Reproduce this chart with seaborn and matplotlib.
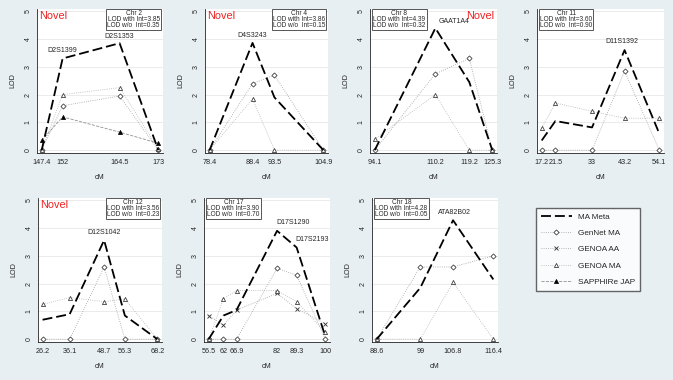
import matplotlib
matplotlib.use('Agg')
import matplotlib.pyplot as plt
from matplotlib.lines import Line2D
import seaborn as sns

sns.set_style('white')
plt.rcParams['font.family'] = ['Liberation Sans', 'DejaVu Sans']

# ---- data (cM positions and LOD values) ----
chr2_cm = [147.4, 152, 164.5, 173]
chr2_meta = [0, 3.3, 3.85, 0]
chr2_gennet = [0, 1.6, 1.95, 0]
chr2_genoa_ma = [0, 2.0, 2.25, 0.05]
chr2_sapphire = [0.35, 1.2, 0.65, 0.25]

chr4_cm = [78.4, 88.4, 93.5, 104.9]
chr4_meta = [0, 3.86, 1.9, 0]
chr4_gennet = [0, 2.4, 2.7, 0]
chr4_genoa_ma = [0, 1.85, 0, 0]

chr8_cm = [94.1, 110.2, 119.2, 125.3]
chr8_meta = [0, 4.39, 2.45, 0]
chr8_gennet = [0, 2.75, 3.3, 0]
chr8_genoa_ma = [0.4, 2.0, 0, 0]

chr11_cm = [17.2, 21.5, 33, 43.2, 54.1]
chr11_meta = [0.35, 1.05, 0.82, 3.6, 0.6]
chr11_gennet = [0, 0, 0, 2.85, 0]
chr11_genoa_ma = [0.8, 1.7, 1.4, 1.15, 1.15]

chr12_cm = [26.2, 36.1, 48.7, 56.3, 68.2]
chr12_meta = [0.7, 0.9, 3.56, 0.85, 0]
chr12_gennet = [0, 0, 2.6, 0, 0]
chr12_genoa_ma = [1.25, 1.5, 1.35, 1.45, 0]

chr17_cm = [56.5, 62, 66.9, 82, 89.3, 100]
chr17_meta = [0, 0.85, 1.05, 3.9, 3.3, 0.1]
chr17_gennet = [0, 0, 0, 2.55, 2.3, 0]
chr17_genoa_aa = [0.85, 0.5, 1.05, 1.65, 1.1, 0.55]
chr17_genoa_ma = [0, 1.45, 1.75, 1.75, 1.35, 0.25]

chr18_cm = [88.6, 99, 106.8, 116.4]
chr18_meta = [0, 1.85, 4.28, 2.15]
chr18_gennet = [0, 2.6, 2.6, 3.0]
chr18_genoa_ma = [0, 0, 2.05, 0]

chrom_names = ['Chr 2', 'Chr 4', 'Chr 8', 'Chr 11', 'Chr 12', 'Chr 17', 'Chr 18']
lod_with = ['3.85', '3.86', '4.39', '3.60', '3.56', '3.90', '4.28']
lod_wo = ['0.35', '0.15', '0.32', '0.90', '0.23', '0.70', '0.05']
novel = [True, True, True, False, True, False, False]

bg = '#e8eff2'
series_order = ['GenNet MA', 'GENOA AA', 'GENOA MA', 'SAPPHIRe JAP', 'MA Meta']
styles = {
    'MA Meta': dict(color='black', lw=1.3, ls=(0, (5.5, 2.2))),
    'GenNet MA': dict(color='#a0a0a0', lw=0.6, ls=':', marker='D', ms=2.6,
                      mfc='white', mec='#404040', mew=0.6),
    'GENOA AA': dict(color='#a0a0a0', lw=0.6, ls=':', marker='x', ms=2.8,
                     mec='#303030', mew=0.6),
    'GENOA MA': dict(color='#b4b4b4', lw=0.6, ls=':', marker='^', ms=3.0,
                     mfc='white', mec='#404040', mew=0.6),
    'SAPPHIRe JAP': dict(color='#909090', lw=0.6, ls='--', marker='^', ms=3.0,
                         mfc='black', mec='black', mew=0.5),
}

# panel layout: pixel box (left, right, top, bottom), box side, marker labels
panels = [
    dict(cm=chr2_cm, s={'MA Meta': chr2_meta, 'GenNet MA': chr2_gennet,
                        'GENOA MA': chr2_genoa_ma, 'SAPPHIRe JAP': chr2_sapphire},
         pos=(37, 163, 9, 153), box='right',
         labels=[('D2S1399', 152, 3.45, 'center'), ('D2S1353', 164.5, 3.98, 'center')]),
    dict(cm=chr4_cm, s={'MA Meta': chr4_meta, 'GenNet MA': chr4_gennet,
                        'GENOA MA': chr4_genoa_ma},
         pos=(205, 328, 9, 153), box='right',
         labels=[('D4S3243', 88.4, 4.0, 'center')]),
    dict(cm=chr8_cm, s={'MA Meta': chr8_meta, 'GenNet MA': chr8_gennet,
                        'GENOA MA': chr8_genoa_ma},
         pos=(370, 497, 9, 153), box='left',
         labels=[('GAAT1A4', 111.0, 4.5, 'left')]),
    dict(cm=chr11_cm, s={'MA Meta': chr11_meta, 'GenNet MA': chr11_gennet,
                         'GENOA MA': chr11_genoa_ma},
         pos=(537, 664, 9, 153), box='left',
         labels=[('D11S1392', 42.5, 3.78, 'center')]),
    dict(cm=chr12_cm, s={'MA Meta': chr12_meta, 'GenNet MA': chr12_gennet,
                         'GENOA MA': chr12_genoa_ma},
         pos=(38, 162, 198, 342), box='right',
         labels=[('D12S1042', 48.7, 3.72, 'center')]),
    dict(cm=chr17_cm, s={'MA Meta': chr17_meta, 'GenNet MA': chr17_gennet,
                         'GENOA AA': chr17_genoa_aa, 'GENOA MA': chr17_genoa_ma},
         pos=(204, 330, 198, 342), box='left',
         labels=[('D17S1290', 81.6, 4.07, 'left'), ('D17S2193', 89.0, 3.45, 'left')]),
    dict(cm=chr18_cm, s={'MA Meta': chr18_meta, 'GenNet MA': chr18_gennet,
                         'GENOA MA': chr18_genoa_ma},
         pos=(372, 498, 198, 342), box='left',
         labels=[('ATA82B02', 107.2, 4.45, 'center')]),
]

W, H = 673, 380
fig = plt.figure(figsize=(W / 100, H / 100), dpi=100, facecolor=bg)

for i, p in enumerate(panels):
    l, r, t, b = p['pos']
    ax = fig.add_axes([l / W, 1 - b / H, (r - l) / W, (b - t) / H])
    ax.set_facecolor('white')
    for name in series_order:
        if name in p['s']:
            sns.lineplot(x=p['cm'], y=p['s'][name], ax=ax, sort=False,
                         estimator=None, **styles[name])
    cm = p['cm']
    pad = (cm[-1] - cm[0]) * 0.04
    ax.set_xlim(cm[0] - pad, cm[-1] + pad)
    ax.set_ylim(-0.1, 5.08)
    ax.set_xticks(cm)
    ax.set_xticklabels(['%g' % v for v in cm], fontsize=5.2)
    ax.set_yticks(range(6))
    ax.set_yticklabels([str(v) for v in range(6)], fontsize=5, rotation=90, va='center')
    ax.tick_params(axis='both', length=2.5, width=0.5, color='#333333', pad=1.5)
    ax.yaxis.grid(True, color='#e8e8e8', lw=0.6)
    ax.set_axisbelow(True)
    for side in ['top', 'right']:
        ax.spines[side].set_visible(False)
    for side in ['left', 'bottom']:
        ax.spines[side].set_color('#222222')
        ax.spines[side].set_linewidth(0.6)
    ax.set_xlabel('cM', fontsize=5.2, labelpad=6)
    ax.set_ylabel('LOD', fontsize=5.2, labelpad=6)

    for txt, x, y, ha in p['labels']:
        ax.text(x, y, txt, fontsize=5.0, ha=ha, va='bottom')

    box_txt = '%s\nLOD with Int=%s\nLOD w/o  Int=%s' % (chrom_names[i], lod_with[i], lod_wo[i])
    bx = 0.975 if p['box'] == 'right' else 0.025
    ax.text(bx, 0.995, box_txt, transform=ax.transAxes, fontsize=4.7,
            ha=p['box'], va='top', multialignment='center', linespacing=0.85,
            bbox=dict(boxstyle='square,pad=0.15', fc='white', ec='#555555', lw=0.7))
    if novel[i]:
        nx = 0.02 if p['box'] == 'right' else 0.98
        nha = 'left' if p['box'] == 'right' else 'right'
        ax.text(nx, 0.985, 'Novel', transform=ax.transAxes, fontsize=7.8,
                color='#ee2020', ha=nha, va='top')

handles = []
for name in ['MA Meta', 'GenNet MA', 'GENOA AA', 'GENOA MA', 'SAPPHIRe JAP']:
    handles.append(Line2D([], [], **styles[name]))
fig.legend(handles, ['MA Meta', 'GenNet MA', 'GENOA AA', 'GENOA MA', 'SAPPHIRe JAP'],
           loc='upper left', bbox_to_anchor=(536 / W, 1 - 208 / H), frameon=True,
           fancybox=False, edgecolor='#404040', facecolor='white', fontsize=5.9,
           handlelength=3.8, labelspacing=1.05, borderpad=0.6, handletextpad=0.7,
           borderaxespad=0)

fig.savefig('out.png', dpi=100, facecolor=bg)
